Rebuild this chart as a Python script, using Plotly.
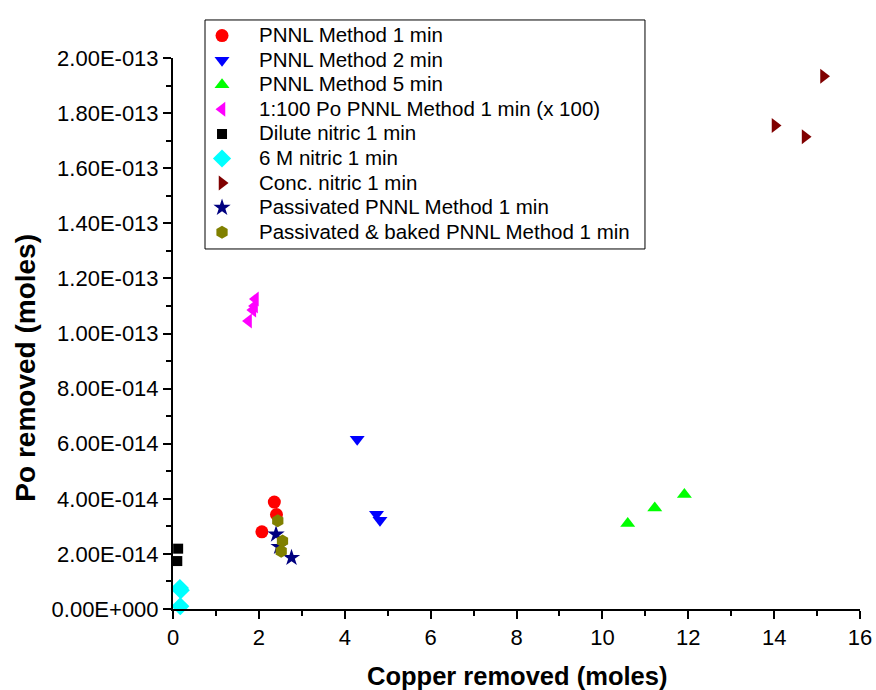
import plotly.graph_objects as go

# Data (x: copper removed, y: Po removed)
pnnl1_x = [2.36, 2.41, 2.07]
pnnl1_y = [3.88e-14, 3.43e-14, 2.80e-14]
pnnl2_x = [4.29, 4.74, 4.82]
pnnl2_y = [6.16e-14, 3.44e-14, 3.22e-14]
pnnl5_x = [10.59, 11.22, 11.91]
pnnl5_y = [3.10e-14, 3.67e-14, 4.16e-14]
po100_x = [1.92, 1.90, 1.86, 1.76]
po100_y = [11.25e-14, 11.0e-14, 10.85e-14, 10.45e-14]
dilute_x = [0.12, 0.10]
dilute_y = [2.19e-14, 1.74e-14]
six_x = [0.16, 0.18, 0.17]
six_y = [0.76e-14, 0.68e-14, 0.10e-14]
conc_x = [15.15, 14.02, 14.72]
conc_y = [19.34e-14, 17.55e-14, 17.14e-14]
pass_x = [2.40, 2.47, 2.76]
pass_y = [2.71e-14, 2.26e-14, 1.86e-14]
baked_x = [2.44, 2.55, 2.52]
baked_y = [3.20e-14, 2.47e-14, 2.10e-14]

y_tickvals = [i * 2e-14 for i in range(11)]
y_ticktext = ["0.00E+000", "2.00E-014", "4.00E-014", "6.00E-014", "8.00E-014",
              "1.00E-013", "1.20E-013", "1.40E-013", "1.60E-013", "1.80E-013", "2.00E-013"]
x_tickvals = list(range(0, 17, 2))

x_title = "Copper removed (moles)"
y_title = "Po removed (moles)"

series = [
    ("PNNL Method 1 min", pnnl1_x, pnnl1_y, "circle", "#FF0000", 13),
    ("PNNL Method 2 min", pnnl2_x, pnnl2_y, "triangle-down", "#0000FF", 13),
    ("PNNL Method 5 min", pnnl5_x, pnnl5_y, "triangle-up", "#00FF00", 13),
    ("1:100 Po PNNL Method 1 min (x 100)", po100_x, po100_y, "triangle-left", "#FF00FF", 13),
    ("Dilute nitric 1 min", dilute_x, dilute_y, "square", "#000000", 10),
    ("6 M nitric 1 min", six_x, six_y, "diamond", "#00FFFF", 14),
    ("Conc. nitric 1 min", conc_x, conc_y, "triangle-right", "#800000", 13),
    ("Passivated PNNL Method 1 min", pass_x, pass_y, "star", "#000080", 13),
    ("Passivated & baked PNNL Method 1 min", baked_x, baked_y, "hexagon", "#808000", 13),
]

fig = go.Figure()
for name, xs, ys, sym, col, sz in series:
    fig.add_trace(go.Scatter(
        x=xs, y=ys, mode="markers",
        name='<span style="font-size:20.5px">' + name + '</span>',
        marker=dict(symbol=sym, color=col, size=sz, line=dict(width=0)),
        cliponaxis=False,
    ))

font_family = "Liberation Sans, Arial, sans-serif"
fig.update_layout(
    width=876, height=690,
    margin=dict(l=173, r=16, t=58, b=81),
    paper_bgcolor="white", plot_bgcolor="white",
    font=dict(family=font_family, color="black", size=20),
    showlegend=True,
    legend=dict(
        x=0.0175, y=1.072, xanchor="left", yanchor="top",
        borderwidth=0, bgcolor="rgba(0,0,0,0)",
        font=dict(size=16.6, family=font_family),
        itemwidth=64,
    ),
    shapes=[
        dict(type="rect", xref="paper", yref="paper",
             x0=0.0466, x1=0.687, y0=0.6534, y1=1.069,
             line=dict(color="black", width=1), fillcolor="white", layer="below"),
    ],
    xaxis=dict(
        range=[0, 16], tickvals=x_tickvals, automargin=False,
        showline=True, linecolor="black", linewidth=2,
        ticks="outside", ticklen=8, tickwidth=2, tickcolor="black",
        minor=dict(dtick=1, ticks="outside", ticklen=5, tickwidth=2, tickcolor="black"),
        showgrid=False, zeroline=False,
        tickfont=dict(size=22),
    ),
    yaxis=dict(
        range=[0, 2e-13], tickvals=y_tickvals, ticktext=y_ticktext, automargin=False,
        showline=True, linecolor="black", linewidth=2,
        ticks="outside", ticklen=8, tickwidth=2, tickcolor="black",
        minor=dict(dtick=1e-14, ticks="outside", ticklen=5, tickwidth=2, tickcolor="black"),
        showgrid=False, zeroline=False,
        tickfont=dict(size=22),
    ),
    annotations=[
        dict(text="<b>" + x_title + "</b>", xref="paper", yref="paper",
             x=0.5, y=-0.1216, xanchor="center", yanchor="middle",
             showarrow=False, font=dict(size=25.5)),
        dict(text="<b>" + y_title + "</b>", xref="paper", yref="paper",
             x=-0.214, y=0.438, xanchor="center", yanchor="middle", textangle=-90,
             showarrow=False, font=dict(size=28)),
    ],
)

fig.write_html("out.html")
